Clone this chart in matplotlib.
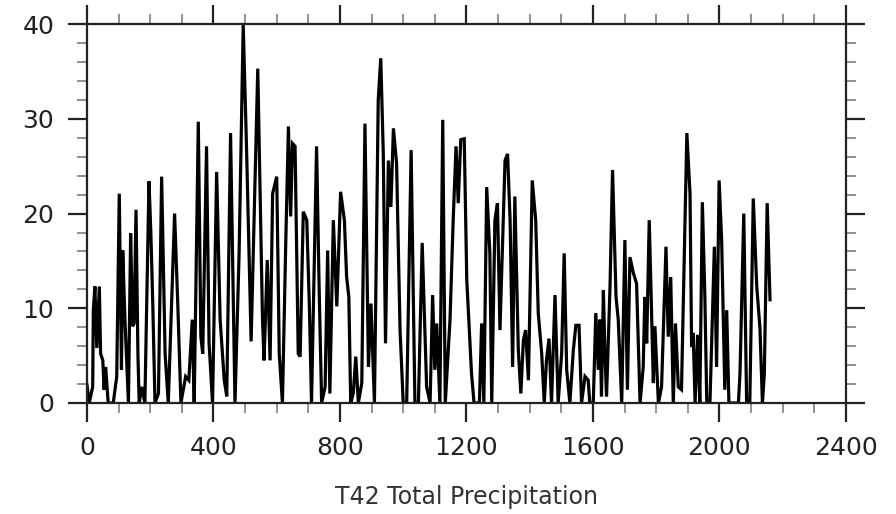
import numpy as np
import matplotlib
matplotlib.use('Agg')
import matplotlib.pyplot as plt
from matplotlib.ticker import MultipleLocator

# turning points of the series (time step, value)
TIME = [0, 7, 18, 20, 25, 31, 39, 43, 50, 54, 59, 67, 83, 94, 102, 109, 113, 120,
        131, 138, 144, 149, 155, 161, 165, 173, 183, 196, 202, 208, 215, 226, 236,
        247, 257, 277, 287, 297, 312, 322, 333, 339, 352, 360, 366, 378, 386, 397,
        410, 421, 434, 442, 454, 468, 481, 494, 505, 519, 540, 547, 555, 560, 570,
        579, 587, 600, 608, 618, 629, 637, 644, 650, 658, 668, 674, 684, 695, 703,
        710, 726, 734, 742, 753, 761, 768, 779, 790, 802, 814, 821, 828, 834, 842,
        850, 858, 869, 879, 890, 898, 909, 921, 929, 937, 944, 953, 961, 969, 979,
        990, 1000, 1011, 1025, 1037, 1048, 1060, 1074, 1085, 1093, 1100, 1106, 1116,
        1125, 1133, 1148, 1158, 1167, 1174, 1182, 1193, 1201, 1216, 1224, 1241, 1248,
        1255, 1264, 1274, 1280, 1290, 1298, 1306, 1322, 1330, 1338, 1346, 1353, 1364,
        1372, 1380, 1387, 1396, 1408, 1419, 1427, 1438, 1446, 1453, 1461, 1469, 1480,
        1490, 1501, 1509, 1517, 1527, 1538, 1546, 1556, 1564, 1575, 1585, 1590, 1601,
        1609, 1617, 1622, 1627, 1633, 1638, 1643, 1654, 1662, 1673, 1680, 1691, 1701,
        1709, 1717, 1728, 1738, 1749, 1759, 1764, 1770, 1778, 1791, 1796, 1807, 1817,
        1831, 1838, 1846, 1854, 1861, 1870, 1880, 1889, 1897, 1907, 1912, 1917, 1923,
        1931, 1938, 1946, 1954, 1960, 1970, 1984, 1991, 1999, 2007, 2017, 2023, 2030,
        2060, 2065, 2077, 2086, 2096, 2107, 2118, 2128, 2136, 2142, 2151, 2160]
PRECIP = [1.9, 0, 1.7, 9.8, 12.3, 5.8, 12.3, 5.2, 4.5, 1.4, 3.8, 0, 0, 2.8, 22.1, 3.5,
          16.1, 8.8, 0, 17.9, 8.1, 8.4, 20.4, 5.2, 0, 1.7, 0, 23.4, 17.9, 10.5, 0, 1.0,
          23.9, 5.2, 0, 20.0, 10.5, 0, 2.8, 2.4, 8.8, 0, 29.7, 7.0, 5.2, 27.1, 6.3, 0,
          24.4, 8.8, 2.4, 0.7, 28.5, 0, 15.8, 39.9, 26.3, 6.5, 35.3, 22.8, 8.8, 4.5,
          15.1, 4.5, 22.1, 23.9, 5.2, 0, 17.6, 29.2, 19.7, 27.4, 27.1, 5.2, 4.9, 20.2,
          19.3, 10.5, 0, 27.1, 12.3, 0, 1.7, 16.1, 1.0, 19.3, 10.2, 22.3, 19.3, 13.3,
          11.2, 0, 1.0, 4.9, 0, 2.1, 29.5, 3.8, 10.5, 0, 32.0, 36.4, 26.3, 6.3, 25.6,
          20.7, 29.0, 25.3, 7.7, 0, 0, 26.7, 0, 0, 16.9, 1.7, 0, 11.4, 3.5, 8.4, 0,
          29.9, 0, 8.8, 19.3, 27.1, 21.1, 27.8, 27.9, 13.0, 3.1, 0, 0, 8.4, 0, 22.8,
          15.8, 0, 19.3, 21.1, 7.7, 25.6, 26.3, 19.3, 3.8, 21.8, 5.6, 1.0, 6.6, 7.7,
          2.4, 23.5, 19.3, 9.5, 5.2, 0, 4.5, 6.8, 0, 11.4, 0, 5.2, 15.8, 3.5, 0, 5.6,
          8.2, 8.2, 0, 2.8, 2.4, 0, 0, 9.5, 3.5, 8.8, 0.7, 11.9, 5.2, 0.7, 12.3, 24.6,
          11.2, 8.8, 0, 17.2, 1.4, 15.4, 13.7, 12.6, 0, 3.8, 11.2, 6.3, 19.3, 2.1, 8.1,
          0, 1.7, 16.5, 7.0, 13.3, 0, 8.4, 1.7, 1.4, 15.8, 28.5, 22.1, 5.9, 7.4, 0,
          7.2, 0, 21.2, 11.2, 0, 0, 16.5, 3.8, 23.5, 17.2, 1.4, 9.8, 0, 0, 3.1, 20.0,
          0, 0, 21.6, 12.3, 8.0, 0, 3.1, 21.1, 10.9]

X_LABEL = 'T42 Total Precipitation'
INK = '#222222'
AXIS = '#222222'

fig = plt.figure(figsize=(8.96, 5.14), dpi=100)
ax = fig.add_axes([0.0971, 0.216, 0.847, 0.737])

ax.plot(TIME, PRECIP, color='black', linewidth=2.3, solid_joinstyle='miter')

ax.set_xlim(0, 2400)
ax.set_ylim(0, 40)
ax.xaxis.set_major_locator(MultipleLocator(400))
ax.xaxis.set_minor_locator(MultipleLocator(100))
ax.yaxis.set_major_locator(MultipleLocator(10))
ax.yaxis.set_minor_locator(MultipleLocator(2))

for spine in ax.spines.values():
    spine.set_linewidth(1.6)
    spine.set_color(AXIS)

ax.tick_params(which='both', direction='out', top=True, right=True,
               color=AXIS, labelcolor=INK)
ax.tick_params(which='major', length=13.5, width=1.6, labelsize=18, pad=10)
ax.tick_params(which='minor', length=7, width=1.3, color='#888888')

ax.set_xlabel(X_LABEL, fontsize=17, color='#333333', labelpad=18)

fig.savefig('out.png', dpi=100)
